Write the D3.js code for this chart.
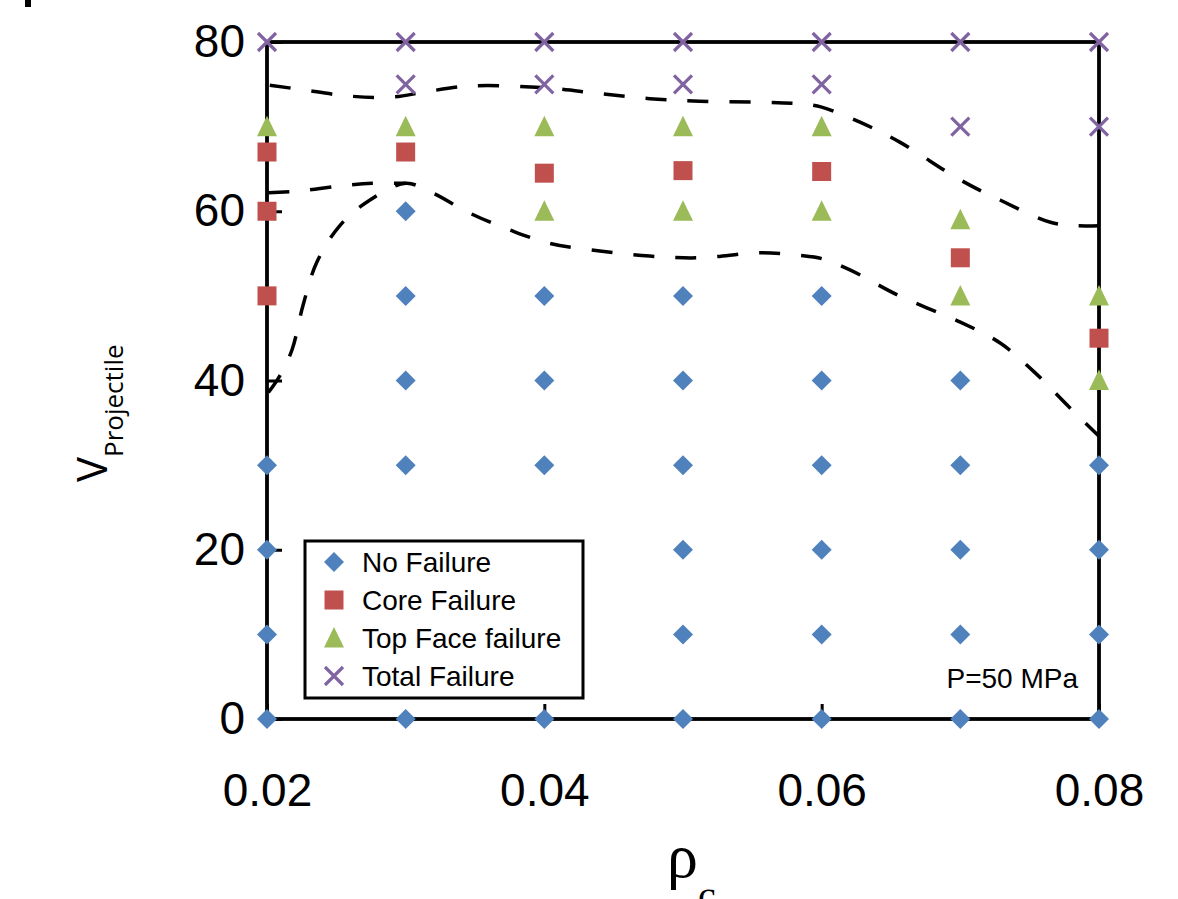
<!DOCTYPE html>
<html>
<head>
<meta charset="utf-8">
<script src="https://cdn.jsdelivr.net/npm/d3@7"></script>
<style>
  html, body { margin: 0; padding: 0; background: #fff; }
  svg { display: block; }
</style>
</head>
<body>
<svg id="chart" width="1178" height="899"></svg>
<script>
// Failure map: core density (rho_c) vs projectile velocity, P = 50 MPa

const xTicks = [0.02, 0.04, 0.06, 0.08];
const yTicks = [0, 20, 40, 60, 80];

// [rho_c, V] pairs per failure mode
const noFailure = [
  [0.02, 0], [0.02, 10], [0.02, 20], [0.02, 30],
  [0.03, 0], [0.03, 10], [0.03, 20], [0.03, 30], [0.03, 40], [0.03, 50], [0.03, 60],
  [0.04, 0], [0.04, 10], [0.04, 20], [0.04, 30], [0.04, 40], [0.04, 50],
  [0.05, 0], [0.05, 10], [0.05, 20], [0.05, 30], [0.05, 40], [0.05, 50],
  [0.06, 0], [0.06, 10], [0.06, 20], [0.06, 30], [0.06, 40], [0.06, 50],
  [0.07, 0], [0.07, 10], [0.07, 20], [0.07, 30], [0.07, 40],
  [0.08, 0], [0.08, 10], [0.08, 20], [0.08, 30]
];
const coreFailure = [
  [0.02, 50], [0.02, 60], [0.02, 67],
  [0.03, 67], [0.04, 64.5], [0.05, 64.8], [0.06, 64.7],
  [0.07, 54.5], [0.08, 45]
];
const topFaceFailure = [
  [0.02, 70], [0.03, 70],
  [0.04, 60], [0.04, 70], [0.05, 60], [0.05, 70], [0.06, 60], [0.06, 70],
  [0.07, 50], [0.07, 59], [0.08, 40], [0.08, 50]
];
const totalFailure = [
  [0.02, 80], [0.03, 75], [0.03, 80], [0.04, 75], [0.04, 80],
  [0.05, 75], [0.05, 80], [0.06, 75], [0.06, 80],
  [0.07, 70], [0.07, 80], [0.08, 70], [0.08, 80]
];

// Hand-drawn boundary curves between the failure regions
const upperBoundary = [
  [0.0202, 74.9], [0.0224, 74.4], [0.0260, 73.6], [0.0291, 73.5], [0.0314, 74.1],
  [0.0346, 74.8], [0.0399, 74.6], [0.0440, 73.9], [0.0476, 73.3], [0.0512, 73.0],
  [0.0556, 72.9], [0.0584, 72.7], [0.0600, 72.3], [0.0628, 70.5], [0.0656, 68.2],
  [0.0700, 63.7], [0.0729, 61.3], [0.0765, 58.7], [0.0783, 58.3], [0.0800, 58.3]
];
const lowerBoundary = [
  [0.0201, 38.6], [0.0209, 40.5], [0.0218, 43.6], [0.0226, 48.9], [0.0236, 54.0],
  [0.0253, 58.4], [0.0274, 61.3], [0.0300, 63.3], [0.0319, 62.2], [0.0346, 59.8],
  [0.0375, 57.8], [0.0404, 56.2], [0.0440, 55.3], [0.0476, 54.7], [0.0512, 54.5],
  [0.0556, 55.1], [0.0584, 54.8], [0.0600, 54.4], [0.0620, 53.1], [0.0656, 50.0],
  [0.0700, 46.9], [0.0729, 44.4], [0.0754, 40.9], [0.0777, 37.1], [0.0800, 33.4]
];
const coreBoundary = [
  [0.0201, 62.2], [0.0224, 62.4], [0.0253, 63.0], [0.0276, 63.3], [0.0300, 63.3]
];

const seriesNames = ["No Failure", "Core Failure", "Top Face failure", "Total Failure"];
const seriesColors = ["#4F81BD", "#C0504D", "#9BBB59", "#8064A2"];
const seriesShapes = ["diamond", "square", "triangle", "cross"];
const seriesData = [noFailure, coreFailure, topFaceFailure, totalFailure];

const svg = d3.select("#chart");
const plotLeft = 267, plotRight = 1099, plotTop = 42, plotBottom = 719;

const x = d3.scaleLinear().domain([0.02, 0.08]).range([plotLeft, plotRight]);
const y = d3.scaleLinear().domain([0, 80]).range([plotBottom, plotTop]);

// small fragment at top-left corner
svg.append("rect").attr("x", 25).attr("y", 0).attr("width", 6).attr("height", 7).attr("fill", "#000");

// axes with inward ticks
const xAxis = d3.axisBottom(x).tickValues(xTicks).tickFormat(d3.format(".2f"))
  .tickSizeInner(-15).tickSizeOuter(0).tickPadding(54);
const yAxis = d3.axisLeft(y).tickValues(yTicks).tickFormat(d3.format("d"))
  .tickSizeInner(-15).tickSizeOuter(0).tickPadding(22);

const gx = svg.append("g").attr("transform", `translate(0,${plotBottom})`).call(xAxis);
const gy = svg.append("g").attr("transform", `translate(${plotLeft},0)`).call(yAxis);
[gx, gy].forEach(g => {
  g.select(".domain").remove();
  g.selectAll(".tick line").attr("stroke", "#000").attr("stroke-width", 3);
  g.selectAll(".tick text").attr("fill", "#000")
    .style("font-family", "'Liberation Sans', Arial, sans-serif").style("font-size", "46px");
});

// plot frame
svg.append("rect")
  .attr("x", plotLeft).attr("y", plotTop)
  .attr("width", plotRight - plotLeft).attr("height", plotBottom - plotTop)
  .attr("fill", "none").attr("stroke", "#000").attr("stroke-width", 3.8);

// boundary curves
const line = d3.line().x(d => x(d[0])).y(d => y(d[1])).curve(d3.curveCatmullRom.alpha(0.5));
[upperBoundary, lowerBoundary, coreBoundary].forEach(pts => {
  svg.append("path").attr("d", line(pts))
    .attr("fill", "none").attr("stroke", "#000").attr("stroke-width", 3.5)
    .attr("stroke-dasharray", "21,21");
});

// marker shapes
function markerPath(shape) {
  switch (shape) {
    case "diamond": return "M0,-10L10,0L0,10L-10,0Z";
    case "square": return "M-9.5,-9.5H9.5V9.5H-9.5Z";
    case "triangle": return "M0,-11L10,9.5H-10Z";
    case "cross": return "M-9,-9L9,9M9,-9L-9,9";
  }
}
function drawMarker(g, shape, color) {
  const p = g.append("path").attr("d", markerPath(shape));
  if (shape === "cross") p.attr("fill", "none").attr("stroke", color).attr("stroke-width", 3.2);
  else p.attr("fill", color);
}

seriesData.forEach((data, i) => {
  svg.append("g").selectAll("g").data(data).join("g")
    .attr("transform", d => `translate(${x(d[0])},${y(d[1])})`)
    .each(function () { drawMarker(d3.select(this), seriesShapes[i], seriesColors[i]); });
});

// legend
const lg = svg.append("g");
lg.append("rect").attr("x", 305).attr("y", 541).attr("width", 278).attr("height", 157)
  .attr("fill", "#fff").attr("stroke", "#000").attr("stroke-width", 3);
seriesNames.forEach((name, i) => {
  const row = lg.append("g").attr("transform", `translate(334,${562 + i * 38})`);
  drawMarker(row, seriesShapes[i], seriesColors[i]);
  row.append("text").attr("x", 28).attr("dy", "0.35em").text(name)
    .style("font-family", "'Liberation Sans', Arial, sans-serif").style("font-size", "28px").attr("fill", "#000");
});

// annotation
svg.append("text").attr("x", 1078).attr("y", 678).attr("dy", "0.35em").attr("text-anchor", "end")
  .text("P=50 MPa")
  .style("font-family", "'Liberation Sans', Arial, sans-serif").style("font-size", "28px");

// axis titles
const yt = svg.append("text").attr("transform", "translate(107,482) rotate(-90)")
  .style("font-family", "'Open Sans', sans-serif").attr("fill", "#000");
yt.append("tspan").text("V").style("font-size", "42px");
yt.append("tspan").attr("dy", 16).text("Projectile").style("font-size", "26px");

const xt = svg.append("text").attr("x", 667).attr("y", 877)
  .style("font-family", "'Liberation Serif', 'Times New Roman', serif").attr("fill", "#000");
xt.append("tspan").text("ρ").style("font-size", "62px");
xt.append("tspan").attr("dy", 32).text("c").style("font-size", "40px");
</script>
</body>
</html>
